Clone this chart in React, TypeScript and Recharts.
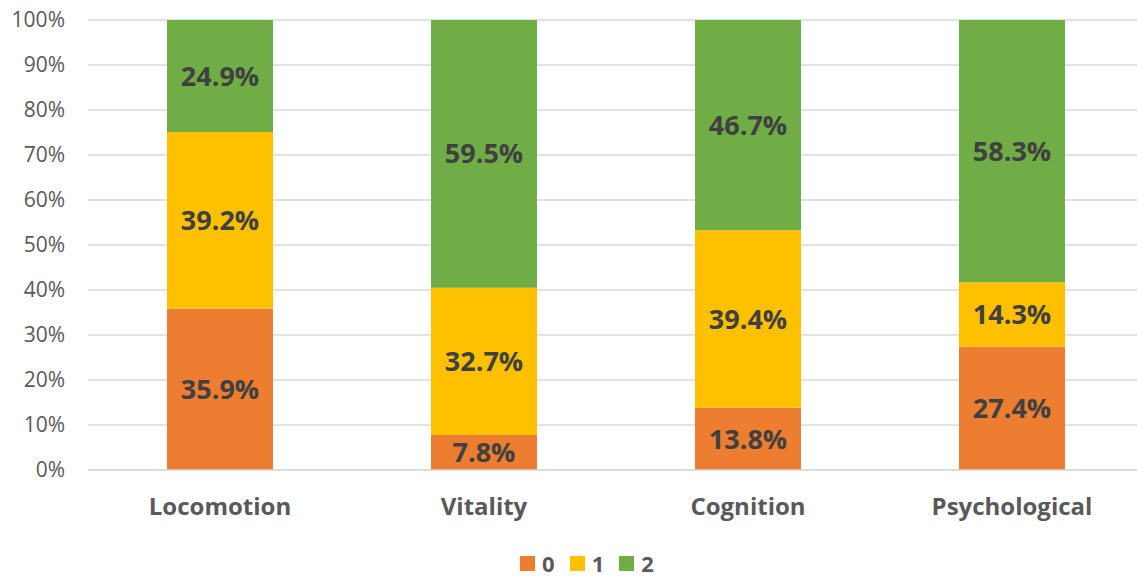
import React from "react";
import { BarChart, Bar, XAxis, YAxis, CartesianGrid, Legend, LabelList } from "recharts";

const categories = ["Locomotion", "Vitality", "Cognition", "Psychological"];
const level0 = [35.9, 7.8, 13.8, 27.4];
const level1 = [39.2, 32.7, 39.4, 14.3];
const level2 = [24.9, 59.5, 46.7, 58.3];
const yTicks = [0, 0.1, 0.2, 0.3, 0.4, 0.5, 0.6, 0.7, 0.8, 0.9, 1];

const series = [
  { key: "0", values: level0, color: "#ED7D31" },
  { key: "1", values: level1, color: "#FFC000" },
  { key: "2", values: level2, color: "#70AD47" },
];

const data = categories.map((name, i) => {
  const row: any = { name };
  series.forEach((s) => {
    row[s.key] = s.values[i];
  });
  return row;
});

const FONT = "'Open Sans', 'Noto Sans', sans-serif";

const renderLegend = (props: any) => {
  const { payload } = props;
  return (
    <div style={{ display: "flex", justifyContent: "center", alignItems: "center", fontFamily: FONT, paddingLeft: 52, height: 30 }}>
      {payload.map((entry: any, index: number) => (
        <div key={`item-${index}`} style={{ display: "flex", alignItems: "center", marginRight: 15, height: 30 }}>
          <span style={{ width: 15, height: 15, background: entry.color, display: "inline-block", marginRight: 7 }} />
          <span style={{ fontSize: 22, fontWeight: 700, color: "#595959", lineHeight: "30px" }}>{entry.value}</span>
        </div>
      ))}
    </div>
  );
};

const App: React.FC = () => {
  return (
    <div style={{ position: "absolute", left: 0, top: 0, width: 1137, height: 578, overflow: "hidden", background: "#fff" }}>
      <BarChart
        width={1160}
        height={578}
        data={data}
        stackOffset="expand"
        margin={{ top: 20, right: 16, left: 0, bottom: 0 }}
      >
        <CartesianGrid vertical={false} stroke="#d9d9d9" strokeWidth={1.5} />
        <XAxis
          dataKey="name"
          height={78}
          tickLine={false}
          tickSize={0}
          tickMargin={28}
          axisLine={{ stroke: "#d9d9d9", strokeWidth: 1.5 }}
          tick={{ fontSize: 24, fontWeight: 700, fill: "#595959", fontFamily: FONT }}
        />
        <YAxis
          width={88}
          domain={[0, 1]}
          ticks={yTicks}
          tickFormatter={(v: number) => `${Math.round(v * 100)}%`}
          tickLine={false}
          tickSize={0}
          tickMargin={23}
          axisLine={false}
          tick={{ fontSize: 21, fill: "#595959", fontFamily: FONT }}
        />
        <Legend
          verticalAlign="bottom"
          height={30}
          content={renderLegend}
          wrapperStyle={{ top: 548, bottom: "auto", left: 0, width: 1137, height: 30 }}
        />
        {series.map((s) => (
          <Bar key={s.key} dataKey={s.key} name={s.key} stackId="a" fill={s.color} barSize={106} isAnimationActive={false}>
            <LabelList
              dataKey={s.key}
              position="center"
              formatter={(v: any) => `${Number(v).toFixed(1)}%`}
              style={{ fontSize: 27, fontWeight: 700, fill: "#404040", fontFamily: FONT }}
            />
          </Bar>
        ))}
      </BarChart>
    </div>
  );
};

export default App;
